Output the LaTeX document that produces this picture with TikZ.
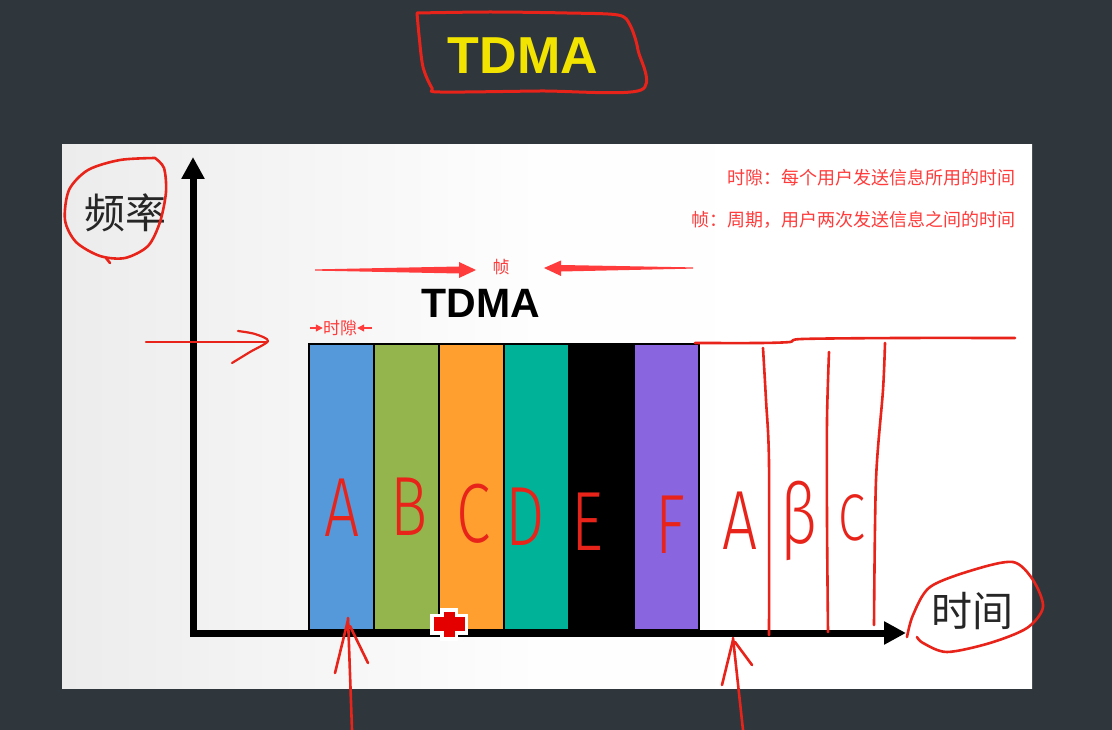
\documentclass[tikz,border=0pt]{standalone}
\usepackage{fontspec}
\setmainfont{Liberation Sans}
\newfontfamily\cjk{Noto Sans CJK SC}
\newfontfamily\hand{Fira Sans Light}
\usetikzlibrary{arrows.meta}
\definecolor{board}{HTML}{2F363C}
\definecolor{panelgray}{HTML}{ECECEC}
\definecolor{pen}{HTML}{E8231A}
\definecolor{note}{HTML}{FF3B3B}
\definecolor{ttl}{HTML}{F2E400}
\definecolor{cA}{HTML}{5599DB}
\definecolor{cB}{HTML}{94B44D}
\definecolor{cC}{HTML}{FE9F30}
\definecolor{cD}{HTML}{00B398}
\definecolor{cE}{HTML}{000000}
\definecolor{cF}{HTML}{8966DF}
\tikzset{
  slot/.style={draw=black, line width=2pt, minimum width=65pt, minimum height=286pt, inner sep=0pt, anchor=north west},
  handletter/.style={text=pen, font=\hand\fontsize{84}{84}\selectfont, xscale=0.74, inner sep=0pt},
  penline/.style={draw=pen, line width=2.6pt, line cap=round, line join=round},
  axisline/.style={draw=black, line width=7pt, -{Triangle[length=22pt,width=22pt]}},
  bigcjk/.style={font=\cjk\fontsize{41}{41}\selectfont, text=black!85, inner sep=0pt},
  notetext/.style={font=\cjk\fontsize{18}{18}\selectfont, text=note, inner sep=0pt, anchor=east},
}
\begin{document}
\begin{tikzpicture}[x=1pt,y=-1pt]
\useasboundingbox (0,0) rectangle (1112,730);
\fill[board] (0,0) rectangle (1112,730);
% white panel
\shade[left color=panelgray, right color=white, middle color=white!96!panelgray] (62,145) rectangle (1032,688);

% title
\node[font=\bfseries\fontsize{52}{52}\selectfont, text=ttl, inner sep=0pt] (title) at (523,56) {TDMA};
\draw[penline, line width=3pt] plot[smooth] coordinates {(417,13) (490,12) (567,13) (618,15) (630,25) (638,50) (641,90) (540,91) (440,92) (432,88) (423,67) (419,35) (417,13)};

% slots
\node[slot, fill=cA] (sA) at (308,343) {};
\node[slot, fill=cB] (sB) at (373,343) {};
\node[slot, fill=cC] (sC) at (438,343) {};
\node[slot, fill=cD] (sD) at (503,343) {};
\node[slot, fill=cE] (sE) at (568,343) {};
\node[slot, fill=cF] (sF) at (633,343) {};

% axes
\coordinate (origin) at (193,633);
\coordinate (ytip) at (193,157);
\coordinate (xstart) at (190,633);
\coordinate (xtip) at (906,633);
\draw[axisline] (origin) -- (ytip);
\draw[axisline] (xstart) -- (xtip);

% axis labels
\node[bigcjk] (freq) at (125,213) {频率};
\node[bigcjk] (time) at (972,611) {时间};
\draw[penline] plot[smooth] coordinates {(155,158) (120,160) (88,170) (69,190) (65,220) (76,242) (100,256) (125,258) (148,246) (160,222) (166,192) (164,168) (155,158)};
\draw[penline] (106,258) -- (110,263);
\draw[penline] plot[smooth] coordinates {(907,637) (913,615) (930,587) (973,570) (1013,562) (1033,580) (1043,607) (1027,628) (990,643) (947,652) (923,643) (917,637)};

% chart title
\node[font=\bfseries\fontsize{41}{41}\selectfont, text=black, inner sep=0pt] (ctitle) at (481,303) {TDMA};

% frame label and arrows
\node[font=\cjk\fontsize{17}{17}\selectfont, text=note, inner sep=1pt] (frame) at (501,267) {帧};
\fill[note] (315,269.4) -- (459,266.5) -- (459,262) -- (476,270) -- (459,278) -- (459,273.5) -- (315,270.6) -- cycle;
\fill[note] (693,267.4) -- (561,265) -- (561,260.5) -- (544,268) -- (561,276) -- (561,271.5) -- (693,268.6) -- cycle;

% slot label
\node[font=\cjk\fontsize{17}{17}\selectfont, text=note, inner sep=0pt] (slotlbl) at (340,328) {时隙};
\coordinate (sl1) at (310,328);
\coordinate (sr1) at (372,328);
\draw[note, line width=1.2pt, -{Triangle[length=7pt,width=7pt]}] (sl1) -- (slotlbl.west);
\draw[note, line width=1.2pt, -{Triangle[length=7pt,width=7pt]}] (sr1) -- (slotlbl.east);

% notes
\node[notetext] (n1) at (1016,178) {时隙：每个用户发送信息所用的时间};
\node[notetext] (n2) at (1016,220) {帧：周期，用户两次发送信息之间的时间};

% left red arrow
\coordinate (la0) at (146,342);
\coordinate (la1) at (266,342);
\draw[penline, line width=2.2pt] (la0) -- (la1);
\draw[penline, line width=2.2pt] plot[smooth] coordinates {(238,331) (255,334) (268,341) (250,352) (232,363)};

% letters in slots
\node[handletter] (lA) at (342,508) {A};
\node[handletter] (lB) at (409,507) {B};
\node[handletter] (lC) at (474,514) {C};
\node[handletter] (lD) at (525,517) {D};
\node[handletter] (lE) at (587,522) {E};
\node[handletter] (lF) at (670,525) {F};

% next frame sketch
\draw[penline] plot[smooth] coordinates {(695,343) (760,343) (790,342) (802,339) (900,338) (1015,338)};
\draw[penline] plot[smooth] coordinates {(763,348) (766,400) (769,463) (769,635)};
\draw[penline] plot[smooth] coordinates {(829,352) (827,420) (827,520) (828,632)};
\draw[penline] plot[smooth] coordinates {(885,343) (883,390) (876,480) (874,625)};
\node[handletter] (rA) at (740,521) {A};
\node[handletter] (rB) at (799,521) {β};
\node[handletter, font=\hand\fontsize{66}{66}\selectfont] (rC) at (852,518) {C};

% red cross icon
\fill[white] (440,608) rectangle (458,641);
\fill[white] (430,614) rectangle (468,635);
\fill[red!90!black] (444,612) rectangle (455,637);
\fill[red!90!black] (434,617) rectangle (465,631);

% bottom arrows
\coordinate (ba0) at (352,730);
\coordinate (ba1) at (348,618);
\draw[penline] (ba0) -- (ba1);
\draw[penline] (348,620) -- (335,673);
\draw[penline] (350,626) -- (368,663);
\coordinate (bb0) at (743,730);
\coordinate (bb1) at (733,638);
\draw[penline] (bb0) -- (bb1);
\draw[penline] (733,640) -- (722,685);
\draw[penline] (735,642) -- (752,665);
\end{tikzpicture}
\end{document}
